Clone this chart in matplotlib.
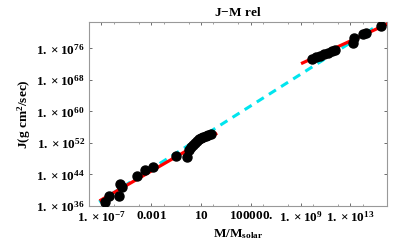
import numpy as np
import matplotlib
matplotlib.use("Agg")
import matplotlib.pyplot as plt

plt.rcParams['font.family'] = ['Liberation Serif', 'DejaVu Serif']
plt.rcParams['mathtext.fontset'] = 'custom'
plt.rcParams['mathtext.rm'] = 'Liberation Serif:bold'
plt.rcParams['mathtext.bf'] = 'Liberation Serif:bold'
plt.rcParams['mathtext.it'] = 'Liberation Serif:bold'

# data (log10 values)
logM_pts = [-6.73, -6.42, -5.57, -5.49, -5.33, -4.17, -3.47, -2.85, -0.99, -0.14,
            0.02, 0.20, 0.33, 0.50, 0.64, 0.85, 1.02, 1.20, 1.41, 1.60, 1.80,
            9.94, 10.25, 10.57, 10.88, 11.19, 11.50, 11.74,
            13.21, 13.29, 14.06, 14.28, 15.44]
logJ_pts = [37.0, 38.5, 38.5, 41.6, 40.8, 43.6, 45.1, 45.9, 48.7, 48.4,
            50.2, 50.9, 51.5, 52.0, 52.5, 52.9, 53.3, 53.6, 53.8, 54.0, 54.3,
            73.3, 73.8, 74.1, 74.6, 74.8, 75.3, 75.6,
            77.4, 78.6, 79.7, 79.9, 81.7]

red1_logM = [-7.04, 2.19]
red1_logJ = [37.5, 54.3]
red2_logM = [9.16, 15.98]
red2_logJ = [72.3, 82.2]
cyan_logM = [-7.19, 16.0]
cyan_logJ = [37.04, 83.42]

xtick_exp = [-7, -3, 1, 5, 9, 13]
xtick_labels = [r'$1.\times10^{-7}$', r'$0.001$', r'$10$', r'$100000.$',
                r'$1.\times10^{9}$', r'$1.\times10^{13}$']
ytick_exp = [36, 44, 52, 60, 68, 76]
ytick_labels = [r'$1.\times10^{%d}$' % e for e in ytick_exp]

def p(a):
    return np.power(10.0, np.array(a, dtype=float))

fig = plt.figure(figsize=(4, 2.47), dpi=100)
ax = fig.add_axes([89/400, 1-206/247, (387-89)/400, (206-22)/247])
ax.set_xscale('log')
ax.set_yscale('log')

ax.plot(p(cyan_logM), p(cyan_logJ), color='#00e5ee', lw=2.2, ls=(0, (2.7, 2.0)), zorder=2)
ax.plot(p(red1_logM), p(red1_logJ), color='#ff0000', lw=2.3, zorder=3)
ax.plot(p(red2_logM), p(red2_logJ), color='#ff0000', lw=2.3, zorder=3)
ax.plot(p(logM_pts), p(logJ_pts), 'o', color='black', ms=6.5, zorder=4)

ax.set_xlim(10.0**-7.19, 10.0**15.95)
ax.set_ylim(10.0**36, 10.0**82.7)

ax.set_xticks(p(xtick_exp))
ax.set_xticklabels(xtick_labels)
ax.set_yticks(p(ytick_exp))
ax.set_yticklabels(ytick_labels)
minor_x = [e + d for e in xtick_exp for d in (-1, 1)]
ax.set_xticks(p(minor_x), minor=True)
ax.set_xticklabels([], minor=True)
ax.set_yticks([], minor=True)

for s in ax.spines.values():
    s.set_color('#999999')
    s.set_linewidth(0.8)
ax.tick_params(which='major', direction='in', length=2.5, width=0.6, color='#555555',
               top=True, right=True, labelsize=9.5, pad=3)
ax.tick_params(which='minor', direction='in', length=1.2, width=0.5, color='#777777',
               top=True, right=True)

ax.set_title(r'$\mathrm{J{-}M\ rel}$', fontsize=9.5, pad=4)
ax.set_xlabel(r'$\mathrm{M/M_{solar}}$', fontsize=9.5, labelpad=2)
ax.set_ylabel(r'$\mathrm{J(g\ cm^{2}/sec)}$', fontsize=9.5, labelpad=2)

fig.savefig('out.png', dpi=100)
